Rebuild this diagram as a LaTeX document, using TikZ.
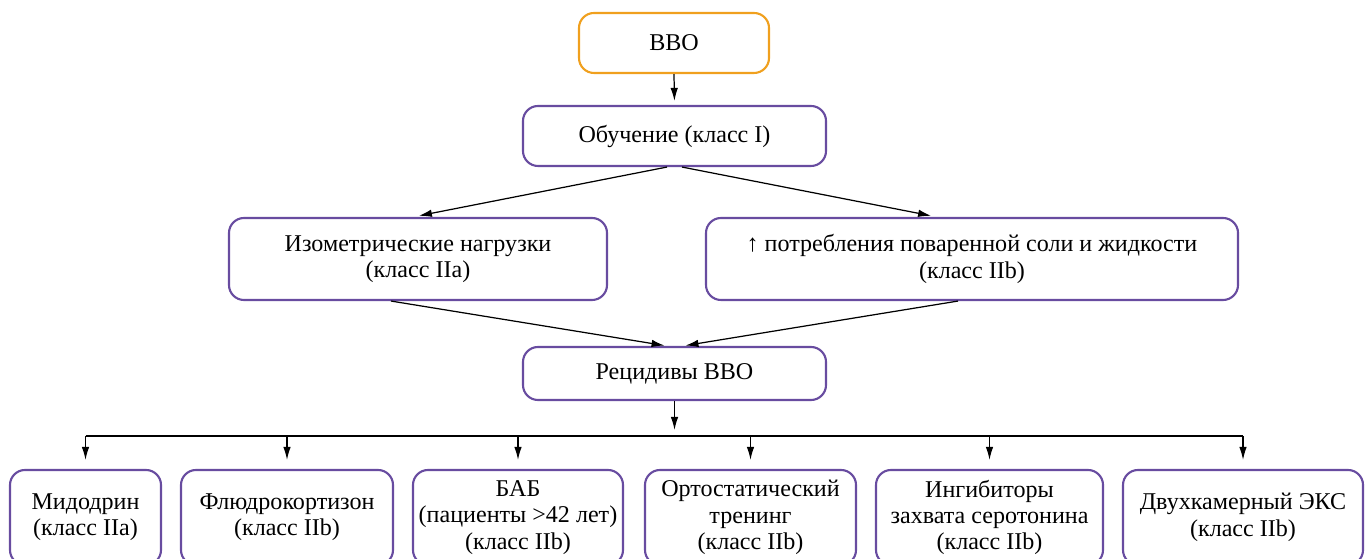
\documentclass[tikz,border=0pt]{standalone}
\usepackage{fontspec}
\setmainfont{Liberation Serif}
\usetikzlibrary{arrows.meta}
\definecolor{boxpurple}{RGB}{104,76,160}
\definecolor{boxorange}{RGB}{240,160,30}
\tikzset{
  stepbox/.style={draw=boxpurple, fill=white, line width=1.2pt, rounded corners=0.3cm, align=center, inner sep=0pt, font=\fontsize{13.7}{15}\selectfont},
  startbox/.style={stepbox, draw=boxorange},
  link/.style={-{Latex[length=0.26cm, width=0.15cm]}, line width=0.7pt, draw=black},
  busline/.style={line width=0.7pt, draw=black},
}

\begin{document}
\begin{tikzpicture}
\useasboundingbox (0,0) rectangle (27.34,11.18);
\node[startbox, minimum width=3.8cm, minimum height=1.2cm] (vvo) at (13.48,10.32) {ВВО};
\node[stepbox, minimum width=6.06cm, minimum height=1.2cm] (obuch) at (13.49,8.46) {Обучение (класс I)};
\node[stepbox, minimum width=7.56cm, minimum height=1.64cm] (izo) at (8.36,6.0) {Изометрические нагрузки\\(класс IIa)};
\node[stepbox, minimum width=10.64cm, minimum height=1.64cm] (salt) at (19.44,6.0) {↑ потребления поваренной соли и жидкости\\(класс IIb)};
\node[stepbox, minimum width=6.06cm, minimum height=1.06cm] (recid) at (13.49,3.71) {Рецидивы ВВО};
\node[stepbox, minimum width=3.02cm, minimum height=1.9cm] (mido) at (1.71,0.83) {Мидодрин\\(класс IIa)};
\node[stepbox, minimum width=4.24cm, minimum height=1.9cm] (fludro) at (5.74,0.83) {Флюдрокортизон\\(класс IIb)};
\node[stepbox, minimum width=4.2cm, minimum height=1.9cm] (bab) at (10.36,0.83) {БАБ\\(пациенты >42 лет)\\(класс IIb)};
\node[stepbox, minimum width=4.22cm, minimum height=1.9cm] (orto) at (15.01,0.83) {Ортостатический\\тренинг\\(класс IIb)};
\node[stepbox, minimum width=4.54cm, minimum height=1.9cm] (ingib) at (19.79,0.83) {Ингибиторы\\захвата серотонина\\(класс IIb)};
\node[stepbox, minimum width=4.8cm, minimum height=1.9cm] (eks) at (24.86,0.83) {Двухкамерный ЭКС\\(класс IIb)};
% upper part
\draw[link, shorten >=0.08cm] (vvo.south) -- (obuch.north);
\draw[link, shorten >=0.12cm] ([xshift=-0.15cm]obuch.south) -- ([xshift=-0.1cm]izo.north);
\draw[link, shorten >=0.12cm] ([xshift=0.15cm]obuch.south) -- ([xshift=-0.7cm]salt.north);
\draw[link, shorten >=0.05cm] ([xshift=-0.54cm]izo.south) -- ([xshift=-0.15cm]recid.north);
\draw[link, shorten >=0.05cm] ([xshift=-0.28cm]salt.south) -- ([xshift=0.17cm]recid.north);
% bus to the six boxes
\coordinate (busL) at (1.71,2.46);
\coordinate (busR) at (24.86,2.46);
\coordinate (busM) at (recid.south |- busL);
\draw[link, shorten >=0.12cm] (recid.south) -- (busM);
\draw[busline] (busL) -- (busR);
\draw[link, shorten >=0.18cm] (busL) -- (mido.north);
\draw[link, shorten >=0.18cm] (fludro.north |- busL) -- (fludro.north);
\draw[link, shorten >=0.18cm] (bab.north |- busL) -- (bab.north);
\draw[link, shorten >=0.18cm] (orto.north |- busL) -- (orto.north);
\draw[link, shorten >=0.18cm] (ingib.north |- busL) -- (ingib.north);
\draw[link, shorten >=0.18cm] (busR) -- (eks.north);
\end{tikzpicture}
\end{document}
